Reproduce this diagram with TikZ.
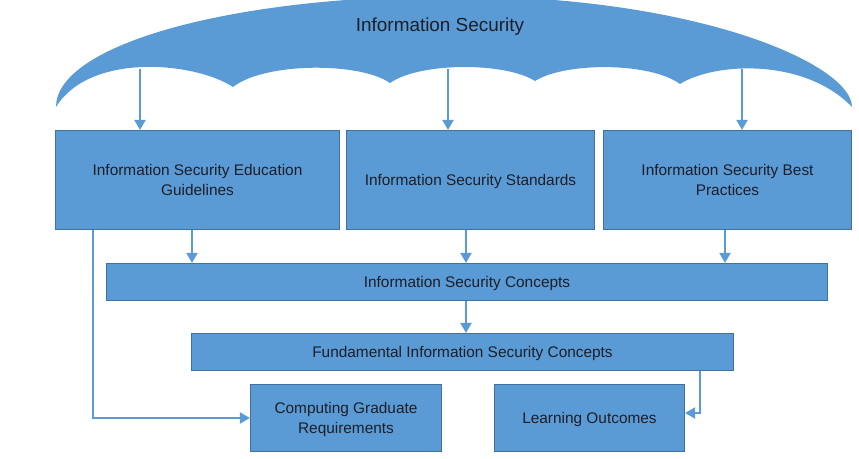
\documentclass[tikz,border=0pt]{standalone}
\usepackage{fontspec}
\setmainfont{Liberation Sans}
\usepackage{xcolor}
\usepackage{tikz}
\usetikzlibrary{arrows.meta,positioning,calc}
\definecolor{boxblue}{RGB}{91,155,213}
\definecolor{edgeblue}{RGB}{65,113,156}
\definecolor{inkdark}{RGB}{28,30,40}
\tikzset{infobox/.style={rectangle, draw=edgeblue, line width=1.1pt, fill=boxblue, align=center, text=inkdark, font=\fontsize{15.4}{20}\selectfont, inner sep=2pt, text depth=0pt}, arrow/.style={-{Triangle[width=11pt,length=10pt]}, line width=2pt, draw=boxblue}}
\begin{document}
\begin{tikzpicture}[x=1pt, y=-1pt]
\useasboundingbox (0,0) rectangle (859,458);
% umbrella
\fill[boxblue] (56,107) .. controls (56,45) and (230,-4) .. (454,-4) .. controls (700,-4) and (852,65) .. (852,107)
 .. controls (805,58) and (715,62) .. (680,84)
 .. controls (650,62) and (565,62) .. (535,81)
 .. controls (505,62) and (420,62) .. (390,83)
 .. controls (360,62) and (265,62) .. (233,87)
 .. controls (195,62) and (90,52) .. (56,107) -- cycle;
\node[text=inkdark, font=\fontsize{18.9}{22}\selectfont] (title) at (440,27) {Information Security};
\coordinate (u1) at (140,69);
\coordinate (u2) at (448,69);
\coordinate (u3) at (742,69);
\node[infobox, minimum width=284pt, minimum height=99pt] (guide) at (197.5,180) {Information Security Education\\Guidelines};
\node[infobox, minimum width=248pt, minimum height=99pt] (standards) at (470.5,180) {Information Security Standards};
\node[infobox, minimum width=248pt, minimum height=99pt] (practices) at (727.5,180) {Information Security Best\\Practices};
\node[infobox, minimum width=721pt, minimum height=37pt] (concepts) at (467,282) {Information Security Concepts};
\node[infobox, minimum width=542pt, minimum height=37pt] (fundamental) at (462.5,352) {Fundamental Information Security Concepts};
\node[infobox, minimum width=191pt, minimum height=67pt] (gradreq) at (346,418) {Computing Graduate\\Requirements};
\node[infobox, minimum width=190pt, minimum height=67pt] (outcomes) at (589.5,418) {Learning Outcomes};
\coordinate (g1) at ([xshift=-5.5pt]guide.south);
\coordinate (s1) at ([xshift=-4.5pt]standards.south);
\coordinate (p1) at ([xshift=-2.5pt]practices.south);
\coordinate (c1) at ([xshift=-1pt]concepts.south);
\coordinate (g2) at ([xshift=38pt]guide.south west);
\coordinate (f1) at ([xshift=-34pt]fundamental.south east);
\coordinate (o1) at ([yshift=5pt]outcomes.east);
\draw[arrow] (u1) -- (u1 |- guide.north);
\draw[arrow] (u2) -- (u2 |- standards.north);
\draw[arrow] (u3) -- (u3 |- practices.north);
\draw[arrow] (g1) -- (g1 |- concepts.north);
\draw[arrow] (s1) -- (s1 |- concepts.north);
\draw[arrow] (p1) -- (p1 |- concepts.north);
\draw[arrow] (c1) -- (c1 |- fundamental.north);
\draw[arrow] (g2) |- (gradreq.west);
\draw[arrow] (f1) |- (o1);
\end{tikzpicture}
\end{document}
